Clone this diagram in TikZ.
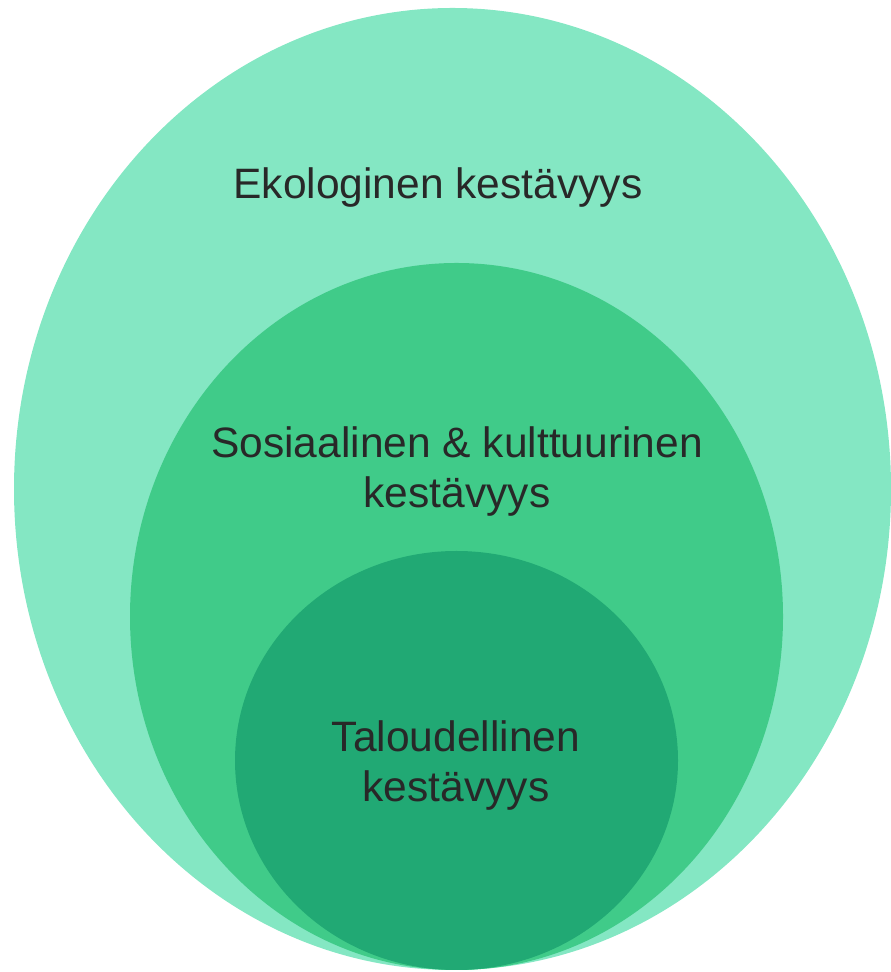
\documentclass[tikz,border=0pt]{standalone}
\usepackage{fontspec}
\setmainfont{Liberation Sans}
\usepackage{xcolor}
\usepackage{tikz}
\usetikzlibrary{positioning, calc}

\definecolor{ekoclr}{HTML}{84E7C3}
\definecolor{sosclr}{HTML}{40CB89}
\definecolor{talclr}{HTML}{21A974}
\definecolor{txtclr}{HTML}{282828}

\begin{document}
\begin{tikzpicture}[
    x=0.02cm, y=0.02cm,
    label/.style={text=txtclr, align=center, anchor=base, inner sep=0pt,
        font=\fontsize{24.2}{28.5}\selectfont}
]
    \useasboundingbox (0,0) rectangle (891,972);

    % Ecological sustainability
    \fill[ekoclr] (452.5,483) ellipse [x radius=438.5, y radius=481];

    % Social and cultural sustainability
    \fill[sosclr] (456.5,355.5) ellipse [x radius=326.5, y radius=353.5];

    % Economic sustainability
    \fill[talclr] (456.5,211.5) ellipse [x radius=221.5, y radius=209.5];

    % Labels
    \node[label] (eko) at (438,773) {Ekologinen kestävyys};
    \node[label] (sos) at (457,464) {Sosiaalinen \& kulttuurinen\\kestävyys};
    \node[label] (tal) at (456,170) {Taloudellinen\\kestävyys};

\end{tikzpicture}
\end{document}
